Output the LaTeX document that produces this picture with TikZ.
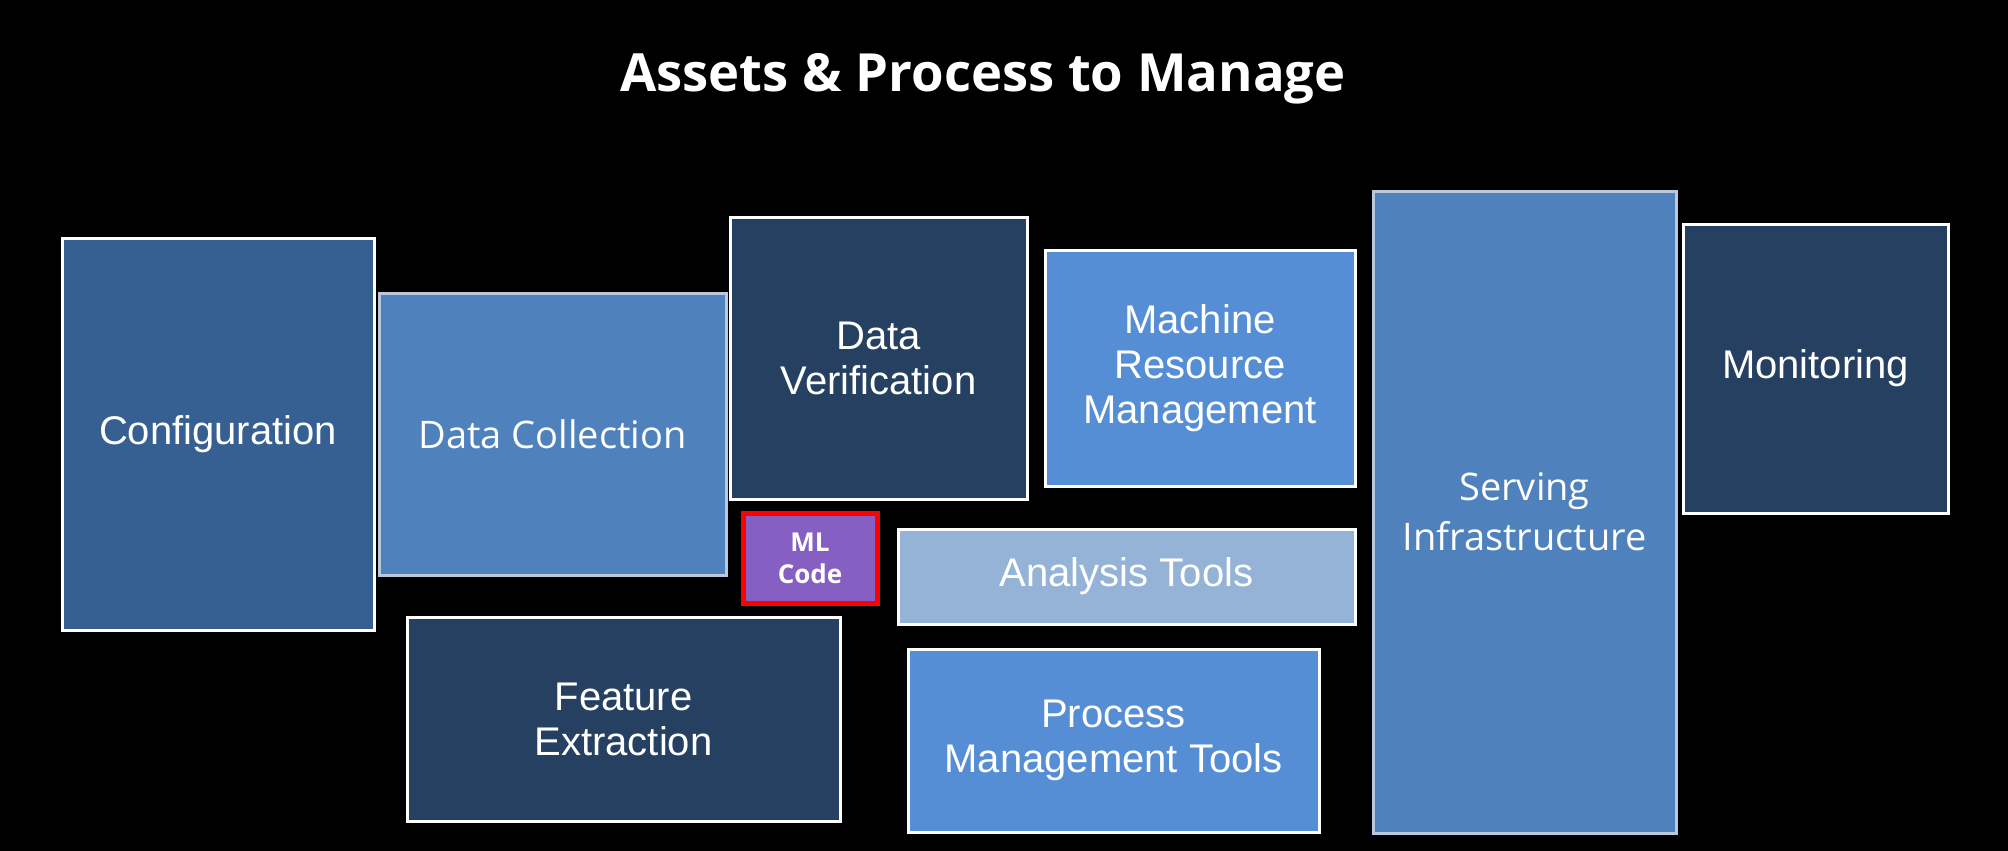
\documentclass[tikz,border=0pt]{standalone}
\usepackage{fontspec}
\setmainfont{Liberation Sans}
\newfontfamily\arialf{Liberation Sans}
\newfontfamily\segoef{Open Sans}
\definecolor{cfgblue}{RGB}{55,96,146}
\definecolor{midblue}{RGB}{79,129,189}
\definecolor{navy}{RGB}{38,64,97}
\definecolor{brightblue}{RGB}{85,142,213}
\definecolor{paleblue}{RGB}{149,179,215}
\definecolor{mlpurple}{RGB}{133,96,194}
\definecolor{softedge}{RGB}{185,200,220}
\tikzset{
  box/.style={draw=white, line width=3pt, inner sep=0pt, align=center, text=white,
    font=\arialf\fontsize{40}{45}\selectfont},
  softbox/.style={box, draw=softedge, font=\segoef\fontsize{38}{50}\selectfont},
  mlbox/.style={box, draw=red, line width=5pt, fill=mlpurple,
    font=\segoef\bfseries\fontsize{26}{32}\selectfont},
  titletext/.style={text=white, inner sep=0pt, font=\segoef\bfseries\fontsize{52.6}{60}\selectfont}
}
\begin{document}
\begin{tikzpicture}[x=1pt,y=-1pt]
\fill[black] (0,0) rectangle (2008,851);
\useasboundingbox (0,0) rectangle (2008,851);
\node[titletext] (title) at (983,79) {Assets \& Process to Manage};
\node[box, fill=cfgblue, minimum width=312pt, minimum height=392pt] (cfg) at (218,434) {Configuration};
\node[softbox, fill=midblue, minimum width=347pt, minimum height=282pt] (dcol) at (552.5,434) {Data Collection};
\node[box, fill=navy, minimum width=297pt, minimum height=282pt] (dver) at (878.5,358) {Data\\Verification};
\node[box, fill=brightblue, minimum width=310pt, minimum height=236pt] (mrm) at (1200,368) {Machine\\Resource\\Management};
\node[softbox, fill=midblue, minimum width=303pt, minimum height=642pt] (serv) at (1524.5,512) {Serving\\Infrastructure};
\node[box, fill=navy, minimum width=265pt, minimum height=289pt] (mon) at (1815.5,368.5) {Monitoring};
\node[mlbox, minimum width=134pt, minimum height=90pt] (ml) at (810,558) {ML\\Code};
\node[box, fill=paleblue, minimum width=457pt, minimum height=95pt] (ana) at (1126.5,576.5) {Analysis Tools};
\node[box, fill=navy, minimum width=433pt, minimum height=204pt] (feat) at (623.5,719) {Feature\\Extraction};
\node[box, fill=brightblue, minimum width=411pt, minimum height=183pt] (proc) at (1113.5,740.5) {Process\\Management Tools};
\end{tikzpicture}
\end{document}
